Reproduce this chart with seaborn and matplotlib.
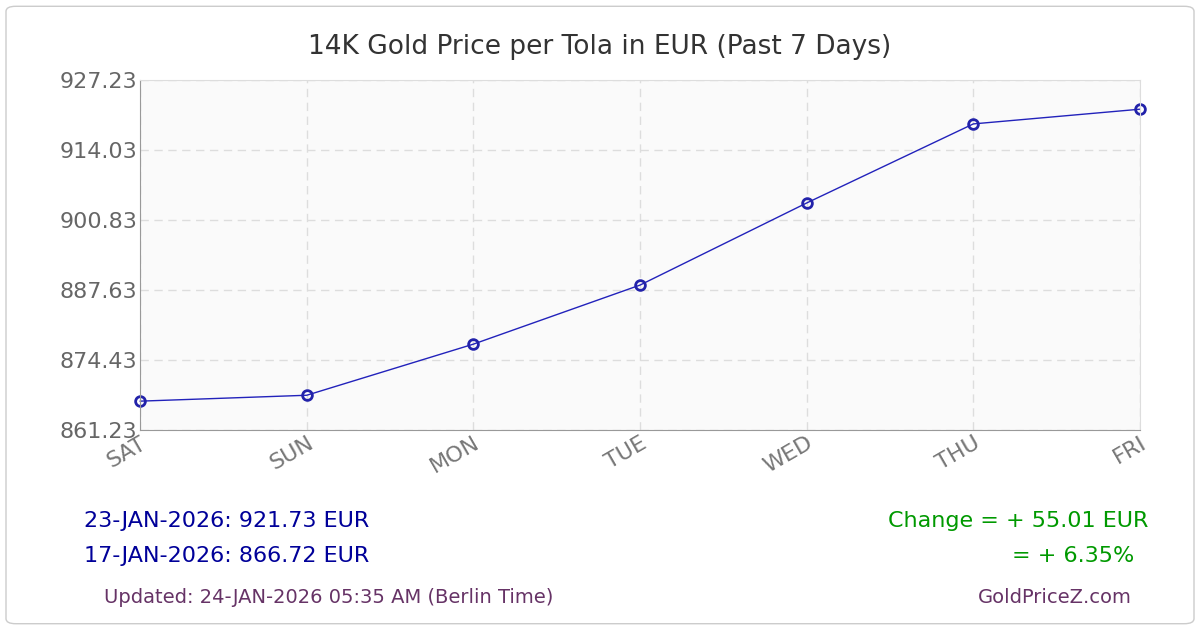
import matplotlib
matplotlib.use("Agg")
import matplotlib.pyplot as plt
import seaborn as sns
import pandas as pd
from matplotlib.patches import FancyBboxPatch

days = ["SAT", "SUN", "MON", "TUE", "WED", "THU", "FRI"]
prices = [866.72, 867.83, 877.46, 888.59, 904.06, 918.96, 921.73]
yticks = [861.23, 874.43, 887.63, 900.83, 914.03, 927.23]

sns.set_style("white")
plt.rcParams['font.family'] = ['DejaVu Sans']
fig = plt.figure(figsize=(12, 6.3), dpi=100)
fig.patches.append(FancyBboxPatch((0.005, 0.01), 0.99, 0.98, boxstyle="round,pad=0,rounding_size=0.008",
                                  transform=fig.transFigure, fc="white", ec="#cccccc", lw=1, zorder=-10))
ax = fig.add_axes([0.1167, 0.317, 0.8333, 0.556])
ax.set_zorder(5)
ax.set_facecolor("#fafafa")
df = pd.DataFrame({"x": range(len(days)), "y": prices})
sns.lineplot(data=df, x="x", y="y", ax=ax, color="#2222bb", lw=1, marker="o", markersize=7,
             markerfacecolor="none", markeredgecolor="#2222aa", markeredgewidth=2, clip_on=False)
ax.set_xlim(0, 6)
ax.set_ylim(861.23, 927.23)
ax.set_xticks(range(7))
ax.set_xticklabels(days, rotation=30, ha="right", rotation_mode="anchor", fontsize=16, color="#777777")
ax.set_yticks(yticks)
ax.set_yticklabels([f"{v:.2f}" for v in yticks], fontsize=16, color="#666666")
ax.grid(True, color="#dddddd", ls=(0, (6, 4)), lw=1)
ax.tick_params(axis="both", length=0, pad=2)
ax.set_xlabel(""); ax.set_ylabel("")
for s in ["top", "right"]:
    ax.spines[s].set_color("#dddddd")
for s in ["left", "bottom"]:
    ax.spines[s].set_color("#999999")
fig.text(0.5, 0.925, "14K Gold Price per Tola in EUR (Past 7 Days)", ha="center", va="center", fontsize=19, color="#333333")
fig.text(0.07, 0.173, "23-JAN-2026: 921.73 EUR", fontsize=16, color="#000099", va="center")
fig.text(0.07, 0.117, "17-JAN-2026: 866.72 EUR", fontsize=16, color="#000099", va="center")
fig.text(0.957, 0.173, "Change = + 55.01 EUR", fontsize=16, color="#009900", va="center", ha="right")
fig.text(0.945, 0.117, "= + 6.35%", fontsize=16, color="#009900", va="center", ha="right")
fig.text(0.087, 0.051, "Updated: 24-JAN-2026 05:35 AM (Berlin Time)", fontsize=14, color="#663366", va="center")
fig.text(0.943, 0.051, "GoldPriceZ.com", fontsize=14, color="#663366", va="center", ha="right")
fig.savefig("out.png", dpi=100)
